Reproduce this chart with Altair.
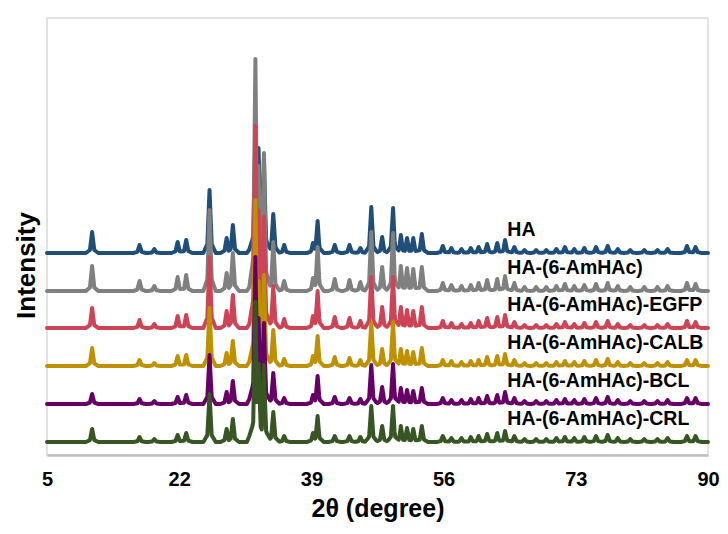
import altair as alt
import pandas as pd

# ---- data ----
series_names = ["HA", "HA-(6-AmHAc)", "HA-(6-AmHAc)-EGFP",
                "HA-(6-AmHAc)-CALB", "HA-(6-AmHAc)-BCL", "HA-(6-AmHAc)-CRL"]
series_colors = ["#1f4e79", "#808080", "#cc4455", "#bf9000", "#660066", "#375623"]
series_offsets = [202, 164, 127, 89, 51, 13]

# peak positions (2theta, degree)
peak_pos = [10.8, 16.9, 18.8, 21.8, 22.9, 25.9, 28.1, 28.9, 31.8, 32.2, 32.9, 34.1,
            35.5, 39.2, 39.8, 42.0, 43.9, 45.3, 46.7, 48.1, 49.5, 50.5, 51.3, 52.1,
            53.2, 55.9, 57.0, 58.3, 59.5, 60.5, 61.6, 62.9, 63.9, 65.1, 66.4, 67.9,
            69.2, 70.5, 71.6, 72.8, 74.1, 75.6, 77.1, 78.4, 80.0, 81.8, 83.5, 84.8,
            87.3, 88.4, 32.0]
# peak half widths (degree): sharp top and broader foot
peak_w = [0.28] * 50 + [1.3]
foot_w = [0.8] * 50 + [1.3]
foot_frac = 0.22

h_HA = [21, 8, 4, 11, 13, 63, 15, 28, 120, 105, 95, 39,
        8, 10, 32, 8, 8, 5, 46, 16, 45, 18, 15, 15,
        19, 7, 5, 4, 5, 6, 9, 10, 13, 6, 3, 3,
        3, 4, 6, 4, 5, 6, 7, 4, 3, 3, 3, 4,
        7, 6, 14]
h_AmHAc = [25, 10, 5, 14, 16, 81, 18, 38, 232, 125, 138, 49,
           10, 13, 44, 12, 11, 9, 59, 24, 58, 25, 23, 22,
           24, 8, 6, 5, 6, 8, 11, 12, 15, 8, 4, 4,
           4, 5, 7, 5, 6, 7, 8, 5, 4, 4, 4, 5,
           8, 7, 16]
h_EGFP = [20, 8, 4, 12, 13, 71, 17, 33, 202, 118, 111, 42,
          9, 12, 37, 11, 10, 7, 51, 21, 51, 21, 18, 17,
          21, 7, 5, 4, 5, 7, 10, 11, 13, 6, 3, 3,
          3, 4, 6, 4, 5, 6, 7, 4, 3, 3, 3, 4,
          7, 6, 16]
h_CALB = [18, 6, 3, 10, 11, 58, 13, 25, 166, 85, 91, 36,
          7, 10, 30, 9, 8, 6, 43, 17, 44, 17, 15, 14,
          18, 6, 5, 4, 5, 6, 9, 10, 12, 6, 3, 3,
          3, 4, 5, 4, 5, 6, 7, 4, 3, 3, 3, 4,
          6, 6, 18]
h_BCL = [10, 5, 3, 7, 9, 49, 12, 23, 147, 86, 81, 31,
         6, 9, 28, 7, 6, 5, 39, 17, 40, 16, 14, 13,
         16, 6, 4, 4, 5, 6, 8, 9, 12, 6, 3, 3,
         3, 4, 5, 4, 5, 6, 7, 4, 3, 3, 3, 4,
         6, 6, 20]
h_CRL = [13, 5, 3, 7, 9, 48, 13, 23, 140, 78, 77, 30,
         6, 9, 26, 6, 6, 5, 36, 16, 36, 16, 14, 13,
         16, 6, 4, 4, 5, 6, 8, 9, 11, 6, 3, 3,
         3, 4, 5, 4, 5, 6, 7, 4, 3, 3, 3, 4,
         6, 6, 24]
heights = [h_HA, h_AmHAc, h_EGFP, h_CALB, h_BCL, h_CRL]

x_ticks = [5, 22, 39, 56, 73, 90]
label_x = 64.2
label_dy = 23

# ---- build the line table (piecewise-linear peaks on a flat baseline) ----
xs = set([5.0, 90.0])
for p, w, fw in zip(peak_pos, peak_w, foot_w):
    xs.update([p, round(p - w, 3), round(p + w, 3), round(p - fw, 3), round(p + fw, 3)])
xs = sorted(x for x in xs if 5 <= x <= 90)

rows = []
for name, off, hs in zip(series_names, series_offsets, heights):
    for x in xs:
        v = 0.0
        for p, w, fw, h in zip(peak_pos, peak_w, foot_w, hs):
            d = abs(x - p)
            if d < w:
                v = max(v, h * (1 - d / w))
            if d < fw and fw != w:
                v = max(v, foot_frac * h * (1 - d / fw))
        rows.append({"series": name, "x": x, "y": off + v})
df = pd.DataFrame(rows)

labels_df = pd.DataFrame({"series": series_names,
                          "x": [label_x] * 6,
                          "y": [o + label_dy for o in series_offsets]})

xscale = alt.Scale(domain=[5, 90], nice=False, zero=False)
yscale = alt.Scale(domain=[0, 437], nice=False, zero=False)

xenc = alt.X("x:Q", scale=xscale,
             axis=alt.Axis(values=x_ticks, title="2θ (degree)", grid=False,
                           ticks=False, labelPadding=14, titlePadding=7,
                           labelFlush=False, titleFontSize=25,
                           domainColor="#bfbfbf", domainWidth=2.5))
yenc = alt.Y("y:Q", scale=yscale,
             axis=alt.Axis(title="Intensity", labels=False, ticks=False,
                           domain=False, grid=False, titleFontSize=26,
                           titleX=-13, titleY=247, titleAngle=270,
                           titleAlign="center", titleBaseline="alphabetic"))

layers = []
for name, col in zip(series_names, series_colors):
    layers.append(
        alt.Chart(df).transform_filter(alt.datum.series == name)
        .mark_line(color=col, strokeWidth=4, strokeCap="round", strokeJoin="round")
        .encode(x=xenc, y=yenc)
    )

text = alt.Chart(labels_df).mark_text(
    align="left", baseline="middle", font="Liberation Sans", fontWeight="bold",
    fontSize=19.5, color="black"
).encode(x=alt.X("x:Q", scale=xscale), y=alt.Y("y:Q", scale=yscale), text="series:N")

chart = alt.layer(*layers, text).properties(
    width=661, height=437,
    autosize=alt.AutoSizeParams(type="none"),
    padding={"left": 39, "top": 10, "right": 12, "bottom": 70},
).configure_view(
    stroke="#d9d9d9", strokeWidth=1.5
).configure_axis(
    labelFont="Liberation Sans", labelFontWeight="bold", labelFontSize=20,
    labelColor="black", titleFont="Liberation Sans", titleFontWeight="bold",
    titleColor="black"
)

chart.save("out.html", embed_options={"renderer": "svg", "actions": False})
